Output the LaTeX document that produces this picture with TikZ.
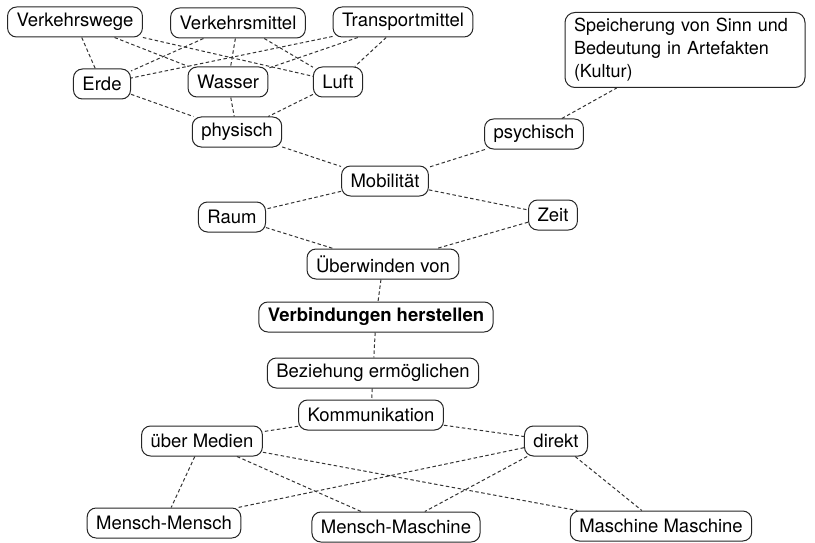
\documentclass[tikz,border=0pt]{standalone}
\usepackage{fontspec}
\setmainfont{TeX Gyre Heros}
\usetikzlibrary{positioning}

\begin{document}
\begin{tikzpicture}[x=1pt, y=-1pt,
  cnode/.style={rectangle, rounded corners=9pt, draw=black!85, line width=1pt,
                fill=white, minimum height=30pt, inner xsep=9pt, inner ysep=3pt,
                font=\fontsize{18.5}{22}\selectfont, align=center},
  tbox/.style={cnode, rounded corners=10pt, align=left, text width=222pt,
               minimum height=75pt, font=\fontsize{18}{23}\selectfont},
  link/.style={dash pattern=on 3.5pt off 2.5pt, line width=1pt, draw=black!80}
]
\useasboundingbox (0,0) rectangle (815,543);

% Transport layer
\node[cnode] (vwg) at ( 75, 22) {Verkehrswege};
\node[cnode] (vmt) at (238, 23) {Verkehrsmittel};
\node[cnode] (tmt) at (403, 22) {Transportmittel};
\node[cnode] (erd) at (102, 84) {Erde};
\node[cnode] (was) at (228, 82) {Wasser};
\node[cnode] (lft) at (338, 82) {Luft};
\node[cnode] (phy) at (237,132) {physisch};

% Culture
\node[tbox] (spc) at (685, 50) {Speicherung von Sinn und\\Bedeutung in Artefakten\\(Kultur)};
\node[cnode] (psy) at (534,134) {psychisch};

% Centre column
\node[cnode] (mob) at (385,181) {Mobilität};
\node[cnode] (rau) at (232,217) {Raum};
\node[cnode] (zei) at (553,215) {Zeit};
\node[cnode] (ueb) at (383,264) {Überwinden von};
\node[cnode, font=\fontsize{18.5}{22}\selectfont\bfseries]
      (vbh) at (376,317) {Verbindungen herstellen};
\node[cnode] (bez) at (373,373) {Beziehung ermöglichen};
\node[cnode] (kom) at (371,415) {Kommunikation};

% Communication layer
\node[cnode] (med) at (202,441) {über Medien};
\node[cnode] (dir) at (556,441) {direkt};
\node[cnode] (mmn) at (164,523) {Mensch-Mensch};
\node[cnode] (mma) at (396,527) {Mensch-Maschine};
\node[cnode] (mam) at (661,526) {Maschine Maschine};

% Links
\foreach \a in {vwg,vmt,tmt}
  \foreach \b in {erd,was,lft}
    \draw[link] (\a) -- (\b);
\foreach \a in {erd,was,lft}
  \draw[link] (\a) -- (phy);
\draw[link] (phy) -- (mob);
\draw[link] (psy) -- (mob);
\draw[link] (psy) -- (spc);
\draw[link] (mob) -- (rau);
\draw[link] (mob) -- (zei);
\draw[link] (rau) -- (ueb);
\draw[link] (zei) -- (ueb);
\draw[link] (ueb) -- (vbh);
\draw[link] (vbh) -- (bez);
\draw[link] (bez) -- (kom);
\draw[link] (kom) -- (med);
\draw[link] (kom) -- (dir);
\foreach \a in {med,dir}
  \foreach \b in {mmn,mma,mam}
    \draw[link] (\a) -- (\b);
\end{tikzpicture}
\end{document}
